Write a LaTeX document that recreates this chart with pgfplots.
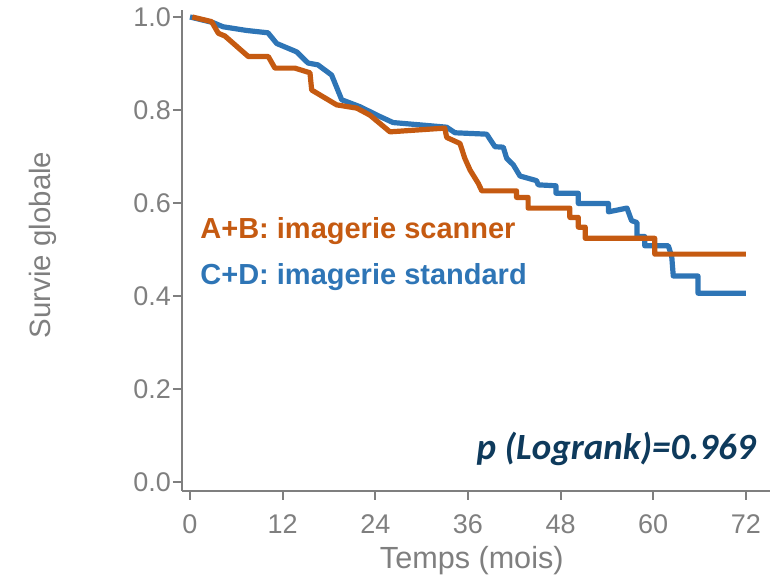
\documentclass[border=0pt]{standalone}
\usepackage{fontspec}
\setmainfont{Liberation Sans}
\newfontfamily\carlito{Carlito}
\usepackage{pgfplots}
\pgfplotsset{compat=1.18}
\definecolor{kmorange}{HTML}{C55A11}
\definecolor{kmblue}{HTML}{2E75B6}
\definecolor{axgray}{HTML}{7F7F7F}
\definecolor{pnavy}{HTML}{0E3A5C}
\begin{document}
\begin{tikzpicture}
\useasboundingbox (-95pt,-47pt) rectangle (296pt,241pt);
\begin{axis}[
  at={(0,0)}, anchor=origin,
  x=3.86pt, y=232.5pt,
  xmin=-1.04, xmax=75.1, ymin=-0.019, ymax=1.015,
  axis lines*=left,
  axis line style={axgray, line width=1pt},
  tick style={axgray, line width=1pt},
  major tick length=4.5pt, tick align=outside,
  xtick={0,12,24,36,48,60,72},
  ytick={0,0.2,0.4,0.6,0.8,1.0},
  yticklabel style={xshift=2.5pt, /pgf/number format/fixed, /pgf/number format/fixed zerofill, /pgf/number format/precision=1},
  ticklabel style={font=\fontsize{13.5}{16}\selectfont, text=axgray},
  xticklabel style={yshift=-4pt},
  /pgf/number format/assume math mode=true,
  clip=false,
]
\addplot[kmblue, line width=2.6pt, line join=round] coordinates {
(0,1.0) (2.98,0.988) (4.27,0.979) (7.34,0.971) (10.1,0.966) (11.23,0.943)
(13.82,0.925) (15.28,0.901) (16.58,0.897) (18.35,0.875) (19.65,0.822)
(22.02,0.807) (24.6,0.786) (26.3,0.773) (33.25,0.763) (34.33,0.751)
(38.43,0.748) (39.5,0.721) (40.58,0.720) (41.02,0.696) (41.88,0.682)
(42.75,0.658) (44.9,0.648) (45.1,0.639) (47.4,0.637) (47.4,0.621)
(50.3,0.621) (50.3,0.599) (54.2,0.599) (54.2,0.581) (56.6,0.589)
(57.2,0.562) (57.9,0.558) (57.9,0.528) (58.9,0.528) (58.9,0.508)
(61.96,0.508) (62.4,0.485) (62.6,0.443) (65.8,0.443) (65.8,0.406) (72,0.406)
};
\addplot[kmorange, line width=2.6pt, line join=round] coordinates {
(0.3,1.0) (2.8,0.99) (3.67,0.965) (4.53,0.959) (7.55,0.915) (10.14,0.915)
(11.0,0.890) (13.6,0.890) (15.54,0.880) (15.76,0.843) (19.0,0.811)
(21.6,0.804) (23.3,0.789) (25.9,0.753) (33.0,0.761) (33.25,0.741)
(34.97,0.728) (35.6,0.696) (36.27,0.671) (37.35,0.642) (37.8,0.626)
(42.3,0.626) (42.3,0.612) (43.8,0.612) (43.8,0.589) (49.2,0.589)
(49.2,0.569) (50.3,0.569) (50.3,0.548) (51.2,0.548) (51.2,0.524)
(60.2,0.524) (60.2,0.490) (72,0.490)
};
\node[anchor=west, font=\bfseries\fontsize{14.5}{17}\selectfont, text=kmorange, inner sep=0pt] at (axis cs:1.3,0.539) {A+B: imagerie scanner};
\node[anchor=west, font=\bfseries\fontsize{14.5}{17}\selectfont, text=kmblue, inner sep=0pt] at (axis cs:1.3,0.440) {C+D: imagerie standard};
\node[anchor=east, font=\carlito\bfseries\itshape\fontsize{18.5}{22}\selectfont, text=pnavy, inner sep=0pt] at (axis cs:73.3,0.071) {p (Logrank)=0.969};
\node[font=\fontsize{15.3}{18}\selectfont, text=axgray] at (axis cs:36.5,-0.168) {Temps (mois)};
\node[rotate=90, font=\fontsize{14.7}{17}\selectfont, text=axgray] at (axis cs:-19.0,0.51) {Survie globale};
\end{axis}
\end{tikzpicture}
\end{document}
